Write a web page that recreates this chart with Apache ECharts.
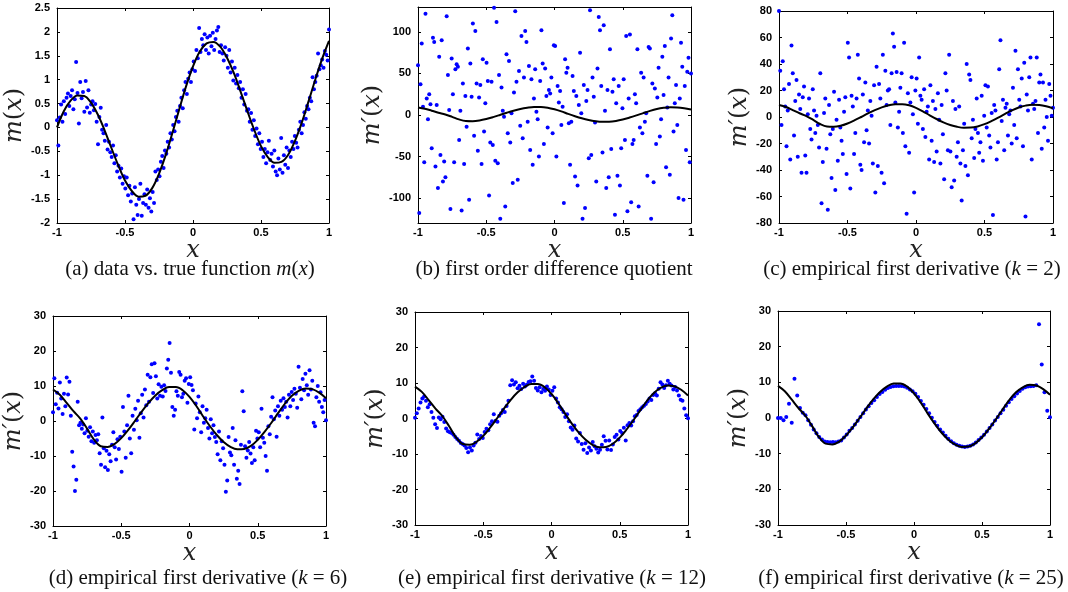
<!DOCTYPE html>
<html>
<head>
<meta charset="utf-8">
<script src="https://cdn.jsdelivr.net/npm/echarts@6/dist/echarts.min.js"></script>
<style>
html,body{margin:0;padding:0;background:#fff;}
#c{width:1068px;height:592px;}
</style>
</head>
<body>
<div id="c"></div>
<script>
// ---------- data ----------
const curveX = [-1,-0.95,-0.9,-0.85,-0.8,-0.75,-0.7,-0.65,-0.6,-0.55,-0.5,-0.45,-0.4,-0.35,-0.3,-0.25,-0.2,-0.15,-0.1,-0.05,0,
  0.05,0.1,0.15,0.2,0.25,0.3,0.35,0.4,0.45,0.5,0.55,0.6,0.65,0.7,0.75,0.8,0.85,0.9,0.95,1];
const mTrue = [0.00,0.34,0.56,0.67,0.66,0.52,0.27,-0.06,-0.43,-0.79,-1.11,-1.33,-1.45,-1.43,-1.27,-0.97,-0.57,-0.10,0.39,0.87,1.28,
  1.59,1.76,1.79,1.69,1.46,1.14,0.75,0.34,-0.05,-0.39,-0.62,-0.74,-0.72,-0.57,-0.28,0.10,0.55,1.01,1.44,1.81];
const dTrue = [9.0,7.5,5.2,2.8,0.7,-2.2,-5.3,-7.2,-7.4,-6.6,-4.9,-2.6,0.0,2.7,5.2,7.3,8.8,9.7,9.7,8.8,6.9,
  4.3,1.3,-1.5,-4.0,-6.0,-7.4,-8.1,-8.0,-7.1,-5.4,-3.1,-0.5,2.3,5.0,7.2,8.6,9.3,9.1,8.1,6.5];

// scatter values, observed at evenly spaced x over [-1, 1]
const dataA = [0.15,-0.38,0.21,0.48,0.12,0.55,0.28,0.62,0.71,0.45,
0.66,0.78,0.38,0.59,1.37,0.72,0.08,0.95,0.61,0.74,
0.33,0.97,0.42,0.78,0.31,0.48,0.55,0.36,0.49,0.12,
-0.35,0.22,0.41,-0.05,-0.12,-0.28,0.05,-0.46,-0.30,-0.52,
-0.62,-0.38,-0.75,-0.58,-0.92,-0.80,-1.05,-0.86,-1.18,-1.02,
-1.28,-1.05,-1.42,-1.22,-1.55,-1.38,-1.92,-1.25,-1.62,-1.83,
-1.50,-1.18,-1.85,-1.58,-1.40,-1.62,-1.30,-1.68,-1.48,-1.76,
-1.35,-1.58,-0.92,-1.10,-0.88,-1.02,-0.72,-0.60,-0.85,-0.48,
-0.55,-0.30,-0.42,-0.12,-0.25,0.05,-0.08,0.22,0.35,0.12,
0.45,0.62,0.40,0.78,0.95,0.70,1.02,1.15,0.95,1.22,
1.38,1.18,1.62,1.45,2.08,1.58,1.85,1.72,1.95,1.62,
1.88,1.55,1.92,1.70,1.98,1.62,1.85,2.03,2.10,1.58,
1.72,1.55,1.40,1.68,1.50,1.25,1.62,1.15,1.38,0.98,
1.25,0.92,1.10,0.82,0.95,0.62,0.80,0.48,0.70,0.35,
0.38,0.12,0.30,-0.05,0.15,-0.18,-0.02,-0.35,-0.12,-0.45,
-0.30,-0.62,-0.45,-0.75,-0.52,-0.28,-0.68,-0.55,-0.82,-0.48,
-0.92,-1.00,-0.65,-0.88,-0.22,-0.95,-0.58,-0.78,-0.42,-0.85,
-0.48,-0.62,-0.30,-0.45,-0.18,-0.32,-0.42,-0.05,0.12,-0.12,
0.05,0.32,0.18,0.45,0.38,0.62,0.55,1.05,0.80,0.95,
1.08,1.55,1.22,1.30,1.42,1.25,1.60,1.52,1.40,2.05];

const dataB = [60,-118,37,86,10,-57,122,20,-5,25,13,
-40,93,88,-62,12,-88,70,-48,90,-80,-56,
-75,119,48,6,-113,68,25,-57,55,61,58,
-30,5,-115,38,-59,23,-14,80,-102,62,22,
110,-25,101,38,-43,21,36,-59,67,-20,14,
63,41,-97,-33,40,-36,129,-55,112,-58,48,
-125,33,5,-2,-110,73,-22,65,-33,2,-82,
27,125,40,-78,53,-13,95,-28,45,101,88,
-8,59,-42,43,-60,20,55,4,-5,-50,41,
102,62,-35,56,23,-15,30,26,45,-22,84,
83,-50,35,15,29,-12,10,-106,67,51,57,
-10,-60,-8,47,29,-74,23,-85,12,75,2,
-125,36,-112,17,30,-52,126,-48,45,22,-9,
-80,56,118,102,35,-45,108,5,-88,30,-75,
79,-41,28,43,-120,14,-73,35,-85,-40,8,
43,-30,95,-116,20,97,-105,-35,-30,25,14,
79,-110,-15,51,-22,45,-8,2,-73,82,80,
-125,38,-81,32,-35,21,57,-26,-5,70,24,
83,-63,9,45,-72,92,120,-20,14,36,-12,
-100,20,87,58,-102,35,-42,52,69,-57,50];

const dataC = [80,35,-6,42,21,8,-22,5,25,-32,54,
33,-14,12,28,-30,17,6,-42,15,23,-29,
-42,2,14,-9,-17,21,5,-12,1,-6,-23,
33,-65,-34,3,14,-24,-70,9,-13,-46,-9,
19,-55,-2,-33,13,-8,-18,-28,4,15,-43,
56,45,-54,16,8,-28,-12,14,47,29,-36,
-40,17,-19,26,-10,5,-20,12,1,-35,24,
-57,38,-37,25,14,-42,47,-50,35,9,20,
21,-6,33,63,53,11,34,-8,4,22,33,
-12,56,-22,-73,18,-27,11,30,2,-57,20,
29,-5,45,16,13,-9,21,-15,4,8,-32,
24,-18,12,-34,6,-26,18,-2,-35,9,-13,
-47,33,20,-25,47,-26,-53,12,-48,6,-30,
-19,8,-35,-63,-25,-5,-37,40,-44,32,28,
-16,-2,-31,-9,14,-12,-27,-19,16,-33,1,
24,-8,23,-14,-23,3,-74,9,5,-32,-19,
36,58,-3,13,-25,7,10,-14,2,5,-20,
22,-6,50,-16,36,13,8,29,-22,41,-75,
17,5,30,45,-32,10,6,12,45,-12,26,
32,-24,26,-8,13,0,-18,25,16,1,7];

const dataD = [2.5,12.2,4.8,8.1,3.6,11.0,6.4,2.0,7.8,4.2,
12.4,7.6,11.2,1.5,-8.8,-13.0,-20.0,-16.8,5.5,-1.2,
-0.5,-2.2,-1.0,-3.5,0.8,-2.8,-4.5,-1.8,-5.8,-3.0,
-6.2,-4.0,-5.5,-3.8,-9.2,-12.5,1.0,-7.8,-13.2,-8.5,
-14.0,-9.5,-11.5,-6.8,-3.2,-7.5,-11.0,-5.2,-8.0,-4.5,
-14.5,4.0,-3.0,-10.5,-1.2,7.2,-5.0,-9.2,1.5,-2.5,
3.5,0.2,5.8,-4.8,2.2,7.5,1.0,9.0,4.5,13.2,
5.5,12.5,16.2,8.0,16.5,12.8,6.4,10.5,7.2,9.8,
7.0,10.2,8.6,15.0,17.5,22.3,13.8,4.0,1.5,3.2,
8.5,7.2,14.0,13.2,6.8,7.8,11.5,12.2,5.2,10.6,
12.5,10.3,8.8,-2.4,5.0,0.8,7.0,2.5,-3.2,4.2,
-0.5,0.8,3.2,-2.0,-5.0,0.5,-3.5,-1.2,-4.6,-6.0,
-9.5,-3.0,-11.2,-5.8,-7.8,-12.5,-20.2,-17.0,-4.6,-9.0,
-9.8,-2.0,-12.5,-5.5,-16.5,-14.2,-18.0,-6.8,8.5,2.8,
-7.2,-10.5,-8.4,-6.0,-9.3,-12.0,-7.5,-11.2,-2.8,-5.0,
-3.2,-7.5,3.5,-4.8,-6.2,-10.0,-14.2,-1.5,-3.8,1.2,
6.8,0.5,3.0,-4.5,4.2,1.5,5.8,3.2,6.5,4.0,
5.5,1.0,7.5,4.2,8.3,6.0,9.2,7.8,3.8,15.5,
9.5,6.2,12.0,8.8,13.5,10.2,7.5,14.5,9.0,11.5,
-0.5,-1.5,6.8,10.0,5.5,8.2,4.0,2.5,6.0,0.2];

const dataE = [0.2,1.5,2.8,4.5,5.6,6.2,5.0,3.2,4.0,1.8,
0.2,-1.6,-2.7,0.3,-0.2,0.5,-1.0,-2.8,-3.6,-3.9,
-4.1,-4.6,-5.2,-5.8,-6.3,-6.9,-7.2,-7.6,-8.3,-9.5,
-8.2,-9.0,-7.6,-6.8,-4.5,-5.8,-4.9,-5.5,-3.8,-2.9,
-3.3,-1.6,-0.8,1.2,-0.6,-0.9,0.8,1.5,2.4,1.8,
3.5,5.0,9.4,10.8,9.6,10.2,8.5,9.2,8.3,9.8,
9.0,9.5,10.3,10.5,11.8,10.6,8.6,7.9,8.8,7.4,
8.3,7.8,9.0,8.2,6.6,7.8,8.8,5.6,4.5,3.2,
2.6,1.8,0.4,1.2,-0.8,-2.5,-3.2,-2.0,-5.6,-6.5,
-4.1,-7.2,-8.8,-7.0,-9.7,-8.2,-9.0,-6.6,-7.8,-8.5,
-9.6,-8.8,-7.4,-5.0,-6.3,-8.7,-6.2,-8.9,-7.3,-5.2,
-4.6,-5.9,-3.5,-4.1,-2.6,-6.2,-1.9,-1.3,-2.0,-0.8,
0.6,1.0,2.1,2.6,3.2,3.6,4.1,4.8,5.6,5.2,
6.6,7.1,6.5,8.4,10.2,9.6,8.6,9.4,10.6,9.8,
9.3,8.2,8.9,7.9,6.5,5.3,5.0,2.8,0.9,0.1];

const dataF = [0.0,0.0,-0.6,0.3,4.0,-1.3,11.0,6.3,2.8,1.5,
0.8,-0.6,-1.9,-3.2,-4.3,-5.3,-6.0,-6.6,-6.7,-6.8,
-6.7,-6.8,-6.6,-6.3,-5.5,-4.6,-3.6,-2.8,-1.8,-0.8,
0.3,1.3,2.4,3.3,4.2,5.0,5.9,6.7,7.3,7.9,
8.4,8.7,8.9,9.0,9.0,9.0,8.8,8.5,8.0,7.5,
6.8,5.9,4.8,3.7,2.5,1.3,0.1,-1.1,-2.2,-3.2,
-4.1,-5.0,-5.8,-6.5,-7.1,-7.5,-7.8,-8.0,-8.1,-8.0,
-7.8,-7.4,-6.9,-6.2,-5.5,-4.7,-3.8,-2.8,-1.8,-0.7,
0.3,1.3,2.3,3.4,4.4,5.3,6.1,6.9,7.6,8.2,
8.6,8.8,8.9,9.0,9.2,26.3,15.0,7.2,2.0,0.2];

const xTicks = [-1,-0.5,0,0.5,1];
const yTicksA = [-2,-1.5,-1,-0.5,0,0.5,1,1.5,2,2.5];
const yTicksB = [-100,-50,0,50,100];
const yTicksC = [-80,-60,-40,-20,0,20,40,60,80];
const yTicksD = [-30,-20,-10,0,10,20,30];

const yNames = ['{i|m}{u|(}{i|x}{u|)}', '{i|m′}{u|(}{i|x}{u|)}'];
const captions = [
  '{r|(a) data vs. true function }{i|m}{r|(}{i|x}{r|)}',
  '{r|(b) first order difference quotient}',
  '{r|(c) empirical first derivative (}{i|k}{r| = 2)}',
  '{r|(d) empirical first derivative (}{i|k}{r| = 6)}',
  '{r|(e) empirical first derivative (}{i|k}{r| = 12)}',
  '{r|(f) empirical first derivative (}{i|k}{r| = 25)}'
];

// ---------- build ----------
const grids = [], xAxes = [], yAxes = [], series = [], titles = [];
const tickFont = {fontFamily:'Liberation Sans', fontWeight:'bold', fontSize:11, color:'#000'};
const nameRich = {
  i:{fontFamily:'DejaVu Serif', fontStyle:'italic', fontWeight:'normal', fontSize:24, color:'#222'},
  u:{fontFamily:'DejaVu Serif', fontWeight:'normal', fontSize:24, color:'#222'}
};
const capRich = {
  r:{fontFamily:'Liberation Serif', fontWeight:'normal', fontSize:21, color:'#111'},
  i:{fontFamily:'Liberation Serif', fontStyle:'italic', fontWeight:'normal', fontSize:21, color:'#111'}
};
const line = {show:true, onZero:false, lineStyle:{color:'#000', width:1}};

function panel(rect, yMin, yMax, yTicks, yName, pts, curveY, cap, capPos) {
  const gi = grids.length;
  grids.push({left:rect[0], top:rect[1], width:rect[2], height:rect[3], show:false});
  const tick = (vals) => ({show:true, inside:true, length:3, customValues:vals, lineStyle:{color:'#000', width:1}});
  xAxes.push({gridIndex:gi, type:'value', min:-1, max:1, position:'bottom', axisLine:line,
    axisTick:tick(xTicks), axisLabel:{customValues:xTicks, margin:4, ...tickFont}, splitLine:{show:false},
    name:'{i|x}', nameLocation:'middle', nameGap:2, nameTextStyle:{rich:nameRich, verticalAlign:'top'}});
  xAxes.push({gridIndex:gi, type:'value', min:-1, max:1, position:'top', axisLine:line,
    axisTick:tick(xTicks), axisLabel:{show:false}, splitLine:{show:false}});
  yAxes.push({gridIndex:gi, type:'value', min:yMin, max:yMax, position:'left', axisLine:line,
    axisTick:tick(yTicks), axisLabel:{customValues:yTicks, margin:7, ...tickFont}, splitLine:{show:false},
    name:yName, nameLocation:'middle', nameGap:21, nameTextStyle:{rich:nameRich}});
  yAxes.push({gridIndex:gi, type:'value', min:yMin, max:yMax, position:'right', axisLine:line,
    axisTick:tick(yTicks), axisLabel:{show:false}, splitLine:{show:false}});
  const n = pts.length;
  series.push({type:'scatter', xAxisIndex:2*gi, yAxisIndex:2*gi, symbolSize:4, clip:true, silent:true,
    itemStyle:{color:'#0000ff', opacity:1}, data: pts.map((v,i) => [-1 + 2*i/(n-1), v]), z:2});
  series.push({type:'line', xAxisIndex:2*gi, yAxisIndex:2*gi, showSymbol:false, smooth:0.35, silent:true,
    lineStyle:{color:'#000', width:2}, data: curveX.map((x,i) => [x, curveY[i]]), z:3});
  titles.push({text:cap, left:capPos[0], top:capPos[1], textAlign:'center', textStyle:{fontWeight:'normal', rich:capRich}});
}

panel([57,8,272,215], -2, 2.5, yTicksA, yNames[0], dataA, mTrue, captions[0], [185,254]);
panel([418,7,273,216], -130, 130, yTicksB, yNames[1], dataB, dTrue, captions[1], [549,254]);
panel([779,11,274,212], -80, 80, yTicksC, yNames[1], dataC, dTrue, captions[2], [907,254]);
panel([53,316,273,210], -30, 30, yTicksD, yNames[1], dataD, dTrue, captions[3], [193,563]);
panel([415,312,273,213], -30, 30, yTicksD, yNames[1], dataE, dTrue, captions[4], [547,563]);
panel([778,311,272,214], -30, 30, yTicksD, yNames[1], dataF, dTrue, captions[5], [906,563]);

const chart = echarts.init(document.getElementById('c'), null, {renderer:'canvas'});
chart.setOption({
  animation:false,
  backgroundColor:'#fff',
  title:titles,
  grid:grids,
  xAxis:xAxes,
  yAxis:yAxes,
  series:series
});
</script>
</body>
</html>
